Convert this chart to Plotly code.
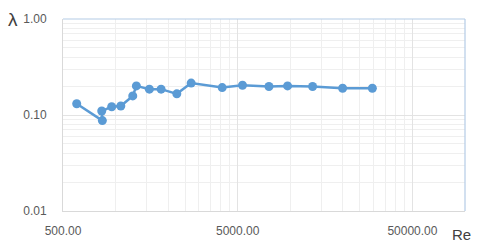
import math
import plotly.graph_objects as go

# Data
re_values = [599, 840, 833, 950, 1071, 1254, 1315, 1561, 1822, 2241, 2707,
             4076, 5326, 7549, 9647, 13420, 19930, 29490]
lambda_values = [0.131, 0.0874, 0.110, 0.122, 0.124, 0.158, 0.201, 0.186, 0.186,
                 0.166, 0.215, 0.193, 0.204, 0.198, 0.201, 0.198, 0.190, 0.190]

x_ticks = [500, 5000, 50000]
y_ticks = [0.01, 0.1, 1.0]
x_minor = [500 * k for k in range(2, 10)] + [5000 * k for k in range(2, 10)] + [100000]
y_minor = [0.01 * k for k in range(2, 10)] + [0.1 * k for k in range(2, 10)]

line_color = "#5b9bd5"
text_color = "#595959"
font_family = "Liberation Sans, Arial, sans-serif"

fig = go.Figure()
fig.add_trace(go.Scatter(
    x=re_values, y=lambda_values, mode="lines+markers",
    line=dict(color=line_color, width=2.5),
    marker=dict(color=line_color, size=9),
    showlegend=False, cliponaxis=False,
))

fig.update_layout(
    width=478, height=250,
    margin=dict(l=63, r=13, t=14, b=37),
    paper_bgcolor="white", plot_bgcolor="white",
    font=dict(family=font_family, color=text_color, size=12),
    xaxis=dict(
        type="log", range=[math.log10(500), 5],
        tickmode="array", tickvals=x_ticks, tickformat=".2f",
        showgrid=True, gridcolor="#e3e3e3", gridwidth=1,
        minor=dict(tickmode="array", tickvals=x_minor, showgrid=True,
                   gridcolor="#efefef", gridwidth=1),
        showline=True, linecolor="#d9d9d9", linewidth=1,
        ticks="", ticklabelstandoff=9,
        tickfont=dict(size=12, color=text_color),
        zeroline=False,
    ),
    yaxis=dict(
        type="log", range=[-2, 0],
        tickmode="array", tickvals=y_ticks, tickformat=".2f",
        showgrid=True, gridcolor="#e3e3e3", gridwidth=1,
        minor=dict(tickmode="array", tickvals=y_minor, showgrid=True,
                   gridcolor="#efefef", gridwidth=1),
        showline=True, linecolor="#d9d9d9", linewidth=1,
        ticks="", ticklabelstandoff=13,
        tickfont=dict(size=12, color=text_color),
        zeroline=False,
    ),
    shapes=[
        dict(type="line", xref="paper", yref="paper", x0=0, x1=1, y0=1, y1=1,
             line=dict(color="#b4cbe6", width=1.2)),
        dict(type="line", xref="paper", yref="paper", x0=1, x1=1, y0=0, y1=1,
             line=dict(color="#b4cbe6", width=1.2)),
    ],
    annotations=[
        dict(text="λ", xref="paper", yref="paper", x=-0.125, y=1.0,
             xanchor="center", yanchor="middle", showarrow=False,
             font=dict(size=19, color="#404040", family=font_family)),
        dict(text="Re", xref="paper", yref="paper", x=1.0, y=-0.12,
             xanchor="left", yanchor="middle", xshift=-15, showarrow=False,
             font=dict(size=15, color="#404040", family=font_family)),
    ],
)

fig.write_html("out.html")
